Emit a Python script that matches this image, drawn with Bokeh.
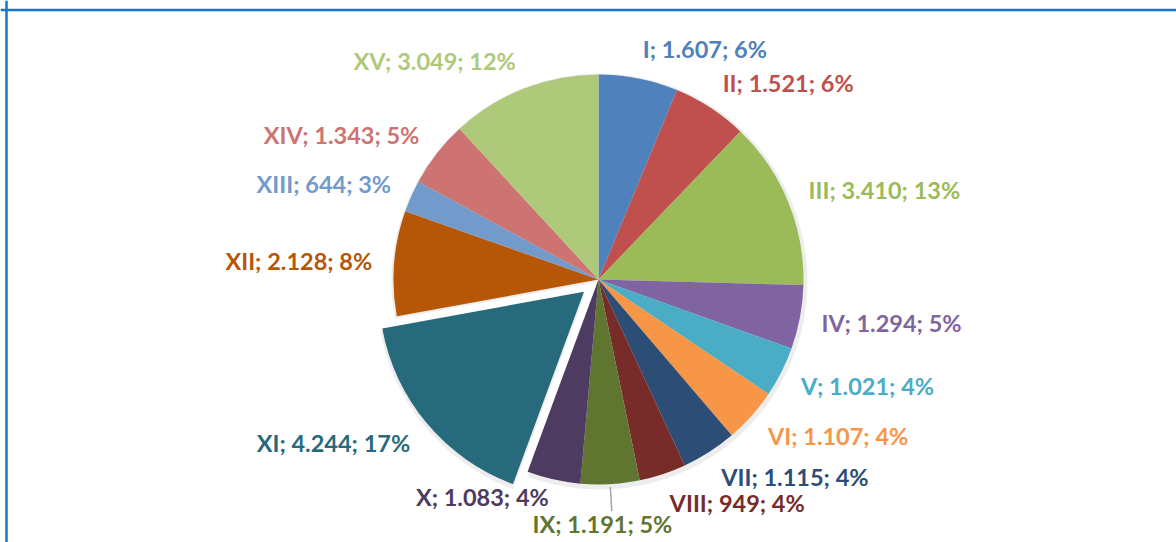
import math
from bokeh.plotting import figure
from bokeh.models import Range1d, ColumnDataSource, Span
from bokeh.core.properties import value
from bokeh.embed import file_html
from bokeh.resources import INLINE

# ---- data ----
names = ["I", "II", "III", "IV", "V", "VI", "VII", "VIII", "IX", "X",
         "XI", "XII", "XIII", "XIV", "XV"]
values = [1607, 1521, 3410, 1294, 1021, 1107, 1115, 949, 1191, 1083,
          4244, 2128, 644, 1343, 3049]
colors = ["#4F81BD", "#C0504D", "#9BBB59", "#8064A2", "#4BACC6", "#F79646",
          "#2C4D75", "#772C2A", "#5F7530", "#4D3B62", "#276A7C", "#B65708",
          "#729ACA", "#CD7371", "#AFC97A"]
exploded = ["XI"]

# ---- layout (pixels) ----
W, H = 1176, 542
CX, CY = 598, 263          # pie centre
R = 205                    # pie radius
EXPLODE = 19               # offset of exploded slice
LBL_DX, LBL_DY = 22, 30    # label distance beyond the rim (x / y)
FONT = "Lato"
FS = 23.5
FSIZE = f"{FS}px"
CHAR_W = 0.42 * FS         # rough text width per character (for overlap check)
BOX_H = 27                 # rough label height (for overlap check)

p = figure(width=W, height=H, output_backend="svg", toolbar_location=None,
           x_range=Range1d(0, W), y_range=Range1d(0, H),
           x_axis_type=None, y_axis_type=None,
           min_border=0, min_border_left=0, min_border_right=0,
           min_border_top=0, min_border_bottom=0)
p.grid.visible = False
p.outline_line_color = None
p.background_fill_color = "white"
p.border_fill_color = "white"

total = float(sum(values))

def fmt_thousands(v):
    return f"{v:,}".replace(",", ".")

slices = []
cum = 0.0
for n, v, c in zip(names, values, colors):
    t0 = cum / total * 2 * math.pi
    cum += v
    t1 = cum / total * 2 * math.pi
    tm = (t0 + t1) / 2
    dx, dy = math.sin(tm), math.cos(tm)   # clockwise from top, y up
    off = EXPLODE if n in exploded else 0
    cx, cy = CX + off * dx, CY + off * dy
    slices.append(dict(name=n, value=v, color=c, start=math.pi / 2 - t0,
                       end=math.pi / 2 - t1, cx=cx, cy=cy, dx=dx, dy=dy,
                       pct=round(v / total * 100)))

# shadow
p.wedge(x=[s["cx"] + 1 for s in slices], y=[s["cy"] - 2 for s in slices],
        radius=R + 3, start_angle=[s["start"] for s in slices],
        end_angle=[s["end"] for s in slices], direction="clock",
        fill_color="black", fill_alpha=0.07, line_color=None)

# slices
src = ColumnDataSource(dict(
    x=[s["cx"] for s in slices], y=[s["cy"] for s in slices],
    start=[s["start"] for s in slices], end=[s["end"] for s in slices],
    color=[s["color"] for s in slices]))
p.wedge(x="x", y="y", radius=R, start_angle="start", end_angle="end",
        direction="clock", fill_color="color", line_color=None, source=src)

# ---- labels ----
labels = []
for s in slices:
    txt = f'{s["name"]}; {fmt_thousands(s["value"])}; {s["pct"]}%'
    w = len(txt) * CHAR_W
    if abs(s["dx"]) < 0.1:
        # label pulled away from the rim, with a leader line
        align = "center"
        lx = s["cx"] + (R + LBL_DX) * s["dx"] - 9
        ly = s["cy"] + (R + LBL_DY + 10) * s["dy"]
        x0, x1 = lx - w / 2, lx + w / 2
        fixed = True
        p.segment(x0=[s["cx"] + (R + 3) * s["dx"]], y0=[s["cy"] + (R + 3) * s["dy"]],
                  x1=[s["cx"] + (R + 27) * s["dx"]], y1=[s["cy"] + (R + 27) * s["dy"]],
                  line_color="#A6A6A6", line_width=1.5)
    else:
        align = "left" if s["dx"] > 0 else "right"
        lx = s["cx"] + (R + LBL_DX) * s["dx"]
        ly = s["cy"] + (R + LBL_DY) * s["dy"]
        x0, x1 = (lx, lx + w) if align == "left" else (lx - w, lx)
        fixed = False
    labels.append(dict(text=txt, color=s["color"], x=lx, y=ly, align=align,
                       x0=x0, x1=x1, fixed=fixed))

# push ordinary labels clear of the leader-line labels
for lb in labels:
    if lb["fixed"]:
        continue
    for other in labels:
        if not other["fixed"]:
            continue
        if lb["x1"] > other["x0"] and lb["x0"] < other["x1"] and abs(lb["y"] - other["y"]) < BOX_H:
            sign = 1 if lb["y"] >= other["y"] else -1
            lb["y"] = other["y"] + sign * BOX_H

groups = {}
for lb in labels:
    g = groups.setdefault(lb["align"], dict(x=[], y=[], text=[], color=[]))
    g["x"].append(lb["x"]); g["y"].append(lb["y"])
    g["text"].append(lb["text"]); g["color"].append(lb["color"])

for align, g in groups.items():
    p.text(x="x", y="y", text="text", text_color="color", source=ColumnDataSource(g),
           text_align=align, text_baseline="middle", text_font=value(FONT),
           text_font_size=FSIZE, text_font_style="bold")

# chart frame (left / top edges)
p.add_layout(Span(location=6, dimension="height", line_color="#1A75C2", line_width=2.5))
p.add_layout(Span(location=H - 9.5, dimension="width", line_color="#1A75C2", line_width=2.5))

open("out.html", "w").write(file_html(p, INLINE))
